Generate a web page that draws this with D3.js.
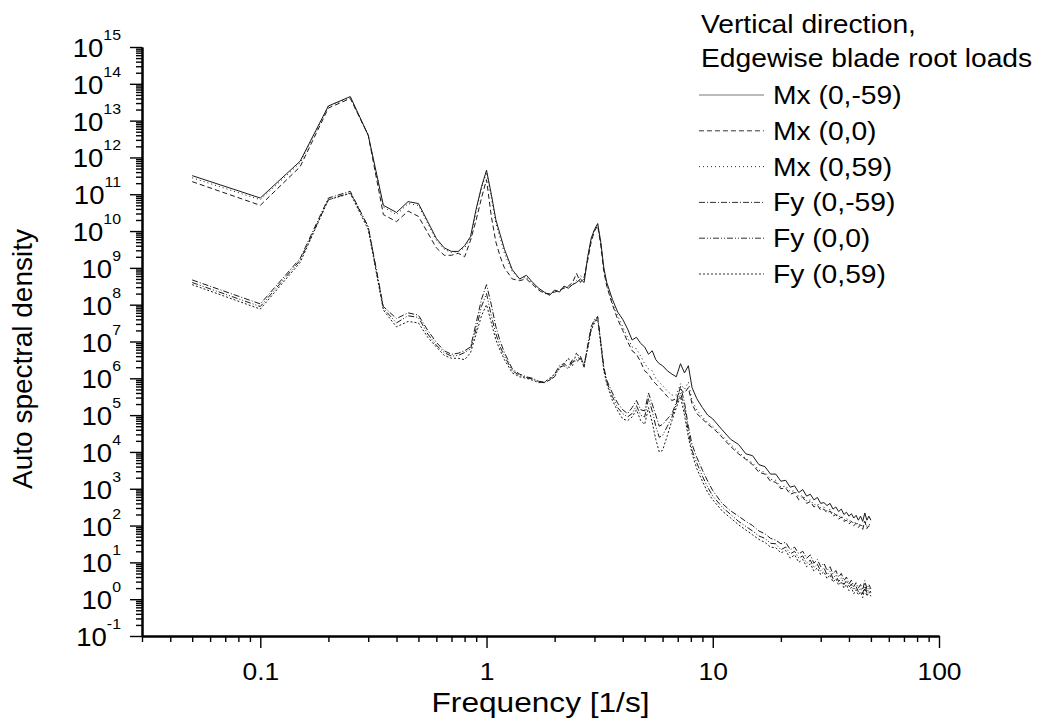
<!DOCTYPE html>
<html>
<head>
<meta charset="utf-8">
<script src="https://cdn.jsdelivr.net/npm/d3@7"></script>
<style>
  body { margin: 0; background: #fff; }
  svg { display: block; font-family: "Liberation Sans", Arial, sans-serif; }
  .axis .domain { stroke: #000; stroke-width: 2; }
  .axis .tick line { stroke: #000; stroke-width: 1.4; }
  .axis text { font-family: "Liberation Sans", Arial, sans-serif; fill: #000; }
</style>
</head>
<body>
<div id="chart"></div>
<script>
// frequency grid [1/s]
const freq = [
  0.05, 0.1, 0.15, 0.2, 0.25, 0.3, 0.35, 0.4, 0.45, 0.5, 0.55, 0.6, 0.65, 0.7, 0.75, 0.8, 0.85, 0.9, 0.95, 1.0, 1.05, 1.1, 1.15, 1.2,
  1.3, 1.4, 1.5, 1.6, 1.7, 1.8, 1.9, 2.0, 2.1, 2.2, 2.3, 2.4, 2.5, 2.6, 2.7, 2.8, 2.9, 3.0, 3.1, 3.2, 3.3, 3.4,
  3.6, 3.8, 4.0, 4.2, 4.4, 4.6, 4.8, 5.0, 5.2, 5.4, 5.6, 5.8, 6.0,
  6.3, 6.6, 6.9, 7.2, 7.5, 7.8, 8.1,
  8.5, 9, 9.5, 10,
  11, 12, 13, 14, 15, 16, 17, 18, 19, 20, 21, 22, 23, 24, 25, 26, 27, 28, 29, 30,
  31, 32, 33, 34, 35, 36, 37, 38, 39, 40, 41, 42, 43, 44, 45, 46, 47, 48, 49, 50
];

const mxNeg59 = [
  3.2e11, 7.9e10, 7.9e11, 2.5e13, 4.5e13, 4e12, 5e10, 3.2e10, 6.3e10, 5.6e10, 1.8e10, 6.3e9, 3.5e9, 2.8e9, 2.8e9, 4e9, 7.1e9, 4e10, 1.6e11, 4.5e11, 1e11, 2e10, 7.9e9, 3.2e9,
  8.9e8, 5e8, 6.3e8, 4e8, 2.8e8, 2.2e8, 1.8e8, 2.5e8, 2.2e8, 3.2e8, 2.8e8, 3.5e8, 4e8, 5e8, 4e8, 2e9, 6.3e9, 1.1e10, 1.6e10, 5e9, 1e9, 4e8,
  1.4e8, 6.3e7, 4e7, 2.2e7, 1.1e7, 1.3e7, 8.9e6, 7.1e6, 4.5e6, 5.6e6, 3.2e6, 2.5e6, 2.2e6,
  1.6e6, 1.3e6, 1.1e6, 2.5e6, 1.4e6, 2.2e6, 5.6e5,
  2.8e5, 1.6e5, 1e5, 7.9e4,
  4e4, 2.2e4, 1.6e4, 8.9e3, 7.9e3, 4.5e3, 4e3, 2.5e3, 2.5e3, 1.6e3,
  1.7e3, 1.1e3, 1.2e3, 7.9e2, 9.5e2, 6.3e2, 7.1e2, 5e2, 5.8e2, 4e2,
  4.2e2, 3.5e2, 4e2, 2.8e2, 3.2e2, 2.4e2, 2.8e2, 2e2, 2.3e2, 1.8e2,
  2.1e2, 1.6e2, 1.9e2, 1.4e2, 1.8e2, 1.3e2, 2.2e2, 1.4e2, 1.8e2, 1.4e2
];

const mx0 = [
  2.2e11, 5e10, 5.6e11, 2.2e13, 4e13, 4e12, 2.8e10, 1.8e10, 3.5e10, 2.5e10, 8.9e9, 3.5e9, 2.2e9, 2.2e9, 2.5e9, 2e9, 5.6e9, 2e10, 7.9e10, 2.5e11, 2.5e10, 5e9, 2e9, 1e9,
  5e8, 4.5e8, 5e8, 3.5e8, 2.5e8, 2e8, 2e8, 2.2e8, 2.5e8, 2.8e8, 3.2e8, 4e8, 7.1e8, 4e8, 5.6e8, 1.6e9, 5e9, 1e10, 1.4e10, 4e9, 7.9e8, 3.2e8,
  1e8, 4e7, 2e7, 1e7, 5.6e6, 4.5e6, 2.8e6, 1.6e6, 1.3e6, 8.9e5, 7.1e5, 5.6e5, 4.5e5,
  3.2e5, 2.5e5, 2.8e5, 5e5, 4e5, 5.6e5, 2e5,
  1.1e5, 7.9e4, 5.6e4, 4.5e4,
  2.5e4, 1.4e4, 8.9e3, 6.3e3, 4.5e3, 2.8e3, 2.5e3, 1.6e3, 1.5e3, 1e3,
  1.05e3, 7.1e2, 7.9e2, 5e2, 6e2, 4e2, 4.5e2, 3.2e2, 3.6e2, 2.6e2,
  2.8e2, 2.2e2, 2.5e2, 1.8e2, 2e2, 1.5e2, 1.7e2, 1.3e2, 1.4e2, 1.1e2,
  1.3e2, 1e2, 1.15e2, 8.9e1, 1.05e2, 7.9e1, 1.3e2, 8.3e1, 1e2, 8.9e1
];

const mx59 = [
  2.8e11, 7.1e10, 7.1e11, 2.5e13, 4.2e13, 4e12, 4.5e10, 2.8e10, 5.6e10, 5e10, 1.6e10, 5.6e9, 3.2e9, 2.6e9, 2.8e9, 3.5e9, 6.3e9, 3.5e10, 1.4e11, 4e11, 7.9e10, 1.6e10, 6.3e9, 2.5e9,
  7.9e8, 5e8, 5.6e8, 3.8e8, 2.6e8, 2.1e8, 1.9e8, 2.4e8, 2.3e8, 3e8, 2.9e8, 3.6e8, 4.5e8, 6.3e8, 4.5e8, 1.8e9, 5.6e9, 1.05e10, 1.5e10, 4.5e9, 8.9e8, 3.5e8,
  1.1e8, 5e7, 2.5e7, 1.3e7, 7.1e6, 6.3e6, 4e6, 2.5e6, 1.8e6, 1.6e6, 1e6, 7.9e5, 6.3e5,
  4.5e5, 3.5e5, 3.5e5, 7.1e5, 5e5, 7.9e5, 2.5e5,
  1.4e5, 8.9e4, 6.3e4, 5e4,
  2.8e4, 1.6e4, 1e4, 6.6e3, 5e3, 3.2e3, 2.8e3, 1.8e3, 1.7e3, 1.1e3,
  1.2e3, 8.3e2, 8.9e2, 6e2, 6.6e2, 4.6e2, 5e2, 3.6e2, 4e2, 3e2,
  3.2e2, 2.5e2, 2.8e2, 2e2, 2.2e2, 1.7e2, 1.9e2, 1.4e2, 1.6e2, 1.3e2,
  1.4e2, 1.1e2, 1.3e2, 1e2, 1.15e2, 8.9e1, 1.4e2, 9.5e1, 1.1e2, 1e2
];

const fyNeg59 = [
  4.7e8, 1.05e8, 1.8e9, 7.9e10, 1.2e11, 1.3e10, 8.9e7, 4.2e7, 6e7, 5.2e7, 2e7, 9.5e6, 5.6e6, 4.5e6, 4.8e6, 5.6e6, 7.1e6, 3.2e7, 1.4e8, 3.5e8, 1e8, 2.5e7, 1e7, 5e6,
  1.8e6, 1.3e6, 1.1e6, 1e6, 8.3e5, 7.9e5, 8.9e5, 1.3e6, 2.2e6, 2.5e6, 2e6, 3.2e6, 2.8e6, 3.5e6, 2e6, 7.9e6, 2.5e7, 4e7, 4.8e7, 1e7, 2e6, 8.9e5,
  4e5, 2.1e5, 1.4e5, 1.1e5, 1.6e5, 2.5e5, 1.4e5, 1.3e5, 4e5, 2e5, 1e5, 5e4, 5.6e4,
  7.9e4, 1.1e5, 2.2e5, 6e5, 2.2e5, 5e4, 1.6e4,
  7.1e3, 3.2e3, 1.6e3, 8.9e2,
  4e2, 2.5e2, 1.8e2, 1.3e2, 1e2, 7.1e1, 6e1, 4.5e1, 4e1, 3.2e1,
  3.5e1, 2.2e1, 2.6e1, 1.7e1, 2e1, 1.3e1, 1.6e1, 9.5, 1.2e1, 7.6,
  9.5, 6, 7.6, 4.8, 6, 4, 5, 3.2, 4, 2.6,
  3.3, 2.2, 2.8, 2, 2.5, 1.8, 3.2, 1.9, 2.5, 1.9
];

const fy0 = [
  4e8, 8.9e7, 1.6e9, 7.1e10, 1.1e11, 1.3e10, 7.9e7, 3.2e7, 5e7, 4.5e7, 1.6e7, 7.9e6, 5e6, 4e6, 4.2e6, 5e6, 6.3e6, 2.2e7, 8.9e7, 2e8, 5e7, 1.6e7, 7.1e6, 4e6,
  1.6e6, 1.2e6, 1.05e6, 9.5e5, 7.9e5, 7.6e5, 8.9e5, 1.1e6, 2e6, 2.2e6, 1.8e6, 2.8e6, 3.2e6, 4e6, 2.2e6, 7.1e6, 2.2e7, 3.5e7, 4.5e7, 8.9e6, 1.8e6, 7.9e5,
  3.2e5, 1.6e5, 1.1e5, 8.9e4, 1.1e5, 1.8e5, 1e5, 8.9e4, 2.8e5, 1.3e5, 5e4, 2.5e4, 2.8e4,
  5e4, 8.9e4, 2e5, 4e5, 1.6e5, 3.5e4, 1.1e4,
  5e3, 2.2e3, 1.1e3, 6.3e2,
  3.2e2, 2e2, 1.3e2, 9.5e1, 7.1e1, 5.2e1, 4.5e1, 3.3e1, 3.2e1, 2.2e1,
  2.6e1, 1.7e1, 2e1, 1.3e1, 1.5e1, 9.5, 1.15e1, 7.2, 8.9, 5.8,
  7.1, 4.6, 5.8, 3.6, 4.6, 3, 3.8, 2.5, 3.2, 2.1,
  2.6, 1.8, 2.2, 1.6, 2, 1.4, 2.5, 1.5, 2, 1.5
];

const fy59 = [
  3.5e8, 7.6e7, 1.4e9, 7.1e10, 1.05e11, 1.1e10, 7.1e7, 2.5e7, 3.5e7, 3.2e7, 1.3e7, 7.1e6, 4.2e6, 3.5e6, 3.5e6, 3.2e6, 5e6, 1.6e7, 5e7, 1e8, 3.2e7, 1.1e7, 5.6e6, 3.2e6,
  1.4e6, 1.1e6, 1e6, 8.9e5, 7.6e5, 7.9e5, 1e6, 1.3e6, 1.8e6, 2.5e6, 3.5e6, 2.2e6, 5e6, 3.2e6, 2.5e6, 6.3e6, 2e7, 3.2e7, 4e7, 7.9e6, 1.6e6, 7.1e5,
  2.5e5, 1.3e5, 7.9e4, 7.1e4, 8.9e4, 1.4e5, 7.1e4, 5.6e4, 1.6e5, 6.3e4, 2.2e4, 1e4, 1.1e4,
  2.8e4, 7.1e4, 1.6e5, 3.2e5, 1e5, 2.5e4, 8.9e3,
  3.5e3, 1.6e3, 7.9e2, 5e2,
  2.5e2, 1.6e2, 1.05e2, 7.6e1, 5.6e1, 4.2e1, 3.5e1, 2.6e1, 2.5e1, 1.8e1,
  2.1e1, 1.3e1, 1.6e1, 1e1, 1.2e1, 7.6, 9.1, 5.8, 7.1, 4.6,
  5.6, 3.6, 4.6, 2.9, 3.6, 2.4, 3, 2, 2.5, 1.7,
  2.1, 1.4, 1.8, 1.3, 1.6, 1.1, 2, 1.2, 1.6, 1.2
];

const seriesNames = ["Mx (0,-59)", "Mx (0,0)", "Mx (0,59)", "Fy (0,-59)", "Fy (0,0)", "Fy (0,59)"];
const seriesValues = [mxNeg59, mx0, mx59, fyNeg59, fy0, fy59];
const dashes = [null, "5,3", "1,3", "6,2,1,2", "6,2,1,2,1,2", "2,2"];

const xTicks = [0.1, 1, 10, 100];
const xTickLabels = ["0.1", "1", "10", "100"];
const yExponents = [-1, 0, 1, 2, 3, 4, 5, 6, 7, 8, 9, 10, 11, 12, 13, 14, 15];
const legendTitle = ["Vertical direction,", "Edgewise blade root loads"];

const width = 1051, height = 724;
const plotLeft = 142, plotRight = 939, plotTop = 47, plotBottom = 636;
const stretch = 1.13; // the source picture's text is a bit wider than Arial

const svg = d3.select("#chart").append("svg")
  .attr("width", width)
  .attr("height", height);

svg.append("rect").attr("width", width).attr("height", height).attr("fill", "#fff");

const x = d3.scaleLog().domain([0.03, 100]).range([plotLeft, plotRight]);
const y = d3.scaleLog().domain([1e-1, 1e15]).range([plotBottom, plotTop]);

// x axis: minor then major ticks
const xMinor = x.ticks().filter(d => !xTicks.some(t => Math.abs(t - d) < 1e-9));
svg.append("g")
  .attr("class", "axis")
  .attr("transform", `translate(0,${plotBottom})`)
  .call(d3.axisBottom(x).tickValues(xMinor).tickSize(6).tickSizeOuter(0).tickFormat(""));

svg.append("g")
  .attr("class", "axis")
  .attr("transform", `translate(0,${plotBottom})`)
  .call(d3.axisBottom(x).tickValues(xTicks).tickSize(12).tickSizeOuter(0).tickPadding(15)
    .tickFormat((d, i) => xTickLabels[i]))
  .selectAll("text")
  .attr("font-size", 24)
  .attr("transform", "scale(1.1,1)");

// y axis
const yMajor = yExponents.map(e => Math.pow(10, e));
const yMinor = [];
yExponents.slice(0, -1).forEach(e => {
  for (let k = 2; k <= 9; k++) yMinor.push(k * Math.pow(10, e));
});

svg.append("g")
  .attr("class", "axis")
  .attr("transform", `translate(${plotLeft},0)`)
  .call(d3.axisLeft(y).tickValues(yMinor).tickSize(6).tickSizeOuter(0).tickFormat(""));

svg.append("g")
  .attr("class", "axis")
  .attr("transform", `translate(${plotLeft},0)`)
  .call(d3.axisLeft(y).tickValues(yMajor).tickSize(12).tickSizeOuter(0).tickFormat(""));

const yLab = svg.append("g")
  .selectAll("text")
  .data(yExponents)
  .enter()
  .append("text")
  .attr("transform", d => `translate(121,${y(Math.pow(10, d)) + 10}) scale(1.06,1)`)
  .attr("text-anchor", "end")
  .attr("fill", "#000");
yLab.append("tspan").attr("font-size", 26).text("10");
yLab.append("tspan").attr("font-size", 15).attr("dy", -17).text(d => d);

// axis titles
svg.append("text")
  .attr("transform", `translate(${(plotLeft + plotRight) / 2},712) scale(${stretch},1)`)
  .attr("text-anchor", "middle")
  .attr("font-size", 28)
  .text("Frequency [1/s]");

svg.append("text")
  .attr("transform", `translate(32,359) rotate(-90)`)
  .attr("text-anchor", "middle")
  .attr("font-size", 28)
  .text("Auto spectral density");

// curves
const line = d3.line()
  .x(d => x(d.f))
  .y(d => y(d.v));

seriesValues.forEach((vals, i) => {
  const pts = freq.map((f, j) => ({ f: f, v: vals[j] })).filter(d => d.v !== undefined);
  svg.append("path")
    .datum(pts)
    .attr("fill", "none")
    .attr("stroke", "#1a1a1a")
    .attr("stroke-width", 1)
    .attr("stroke-dasharray", dashes[i])
    .attr("d", line);
});

// legend
svg.selectAll(".ltitle")
  .data(legendTitle)
  .enter()
  .append("text")
  .attr("class", "ltitle")
  .attr("transform", (d, i) => `translate(701,${33 + i * 34}) scale(${stretch},1)`)
  .attr("font-size", 25)
  .text(d => d);

const leg = svg.append("g")
  .selectAll("g")
  .data(seriesNames)
  .enter()
  .append("g")
  .attr("transform", (d, i) => `translate(0,${95 + i * 35.8})`);

leg.append("line")
  .attr("x1", 699)
  .attr("x2", 764)
  .attr("stroke", (d, i) => i === 0 ? "#777" : "#333")
  .attr("stroke-width", 1)
  .attr("stroke-dasharray", (d, i) => dashes[i]);

leg.append("text")
  .attr("transform", `translate(773,0) scale(${stretch},1)`)
  .attr("dy", "0.36em")
  .attr("font-size", 25)
  .text(d => d);
</script>
</body>
</html>
